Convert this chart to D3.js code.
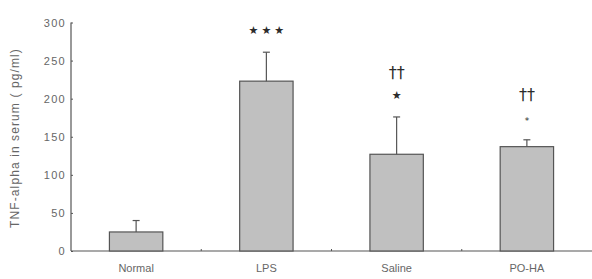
<!DOCTYPE html>
<meta charset="utf-8">
<style>
    body { margin: 0; background: #fff; }
    text { font-family: "Liberation Sans", Arial, sans-serif; fill: #666; }
    .axis path, .axis line { stroke: #555; }
    .mark { font-family: "DejaVu Sans", sans-serif; fill: #2a2a2a; }
    .marks { opacity: 0.99; }
</style>
<svg width="592" height="279"></svg>
<script src="https://d3js.org/d3.v7.min.js"></script>
<script>

    var groups = ["Normal", "LPS", "Saline", "PO-HA"];
    var means = [25, 223, 127, 137];
    var errors = [15, 38, 49, 9];
    var marks = [[], ["★★★"], ["††", "★"], ["††", "*"]];
    var yTicks = [0, 50, 100, 150, 200, 250, 300];

    var svg = d3.select("svg");
    var plotLeft = 71, plotRight = 592, plotTop = 22.5, plotBottom = 251;

    var x = d3.scaleBand()
        .domain(groups)
        .range([plotLeft, plotRight])
        .paddingInner(0.59)
        .paddingOuter(0.295);

    var y = d3.scaleLinear()
        .domain([0, 300])
        .range([plotBottom, plotTop]);

    // y axis
    var ya = svg.append("g")
        .attr("class", "axis")
        .attr("transform", "translate(" + plotLeft + ",0)")
        .call(d3.axisLeft(y).tickValues(yTicks).tickSize(-2).tickPadding(5));
    ya.select(".domain").attr("d", "M0," + y(300) + "V" + plotBottom).attr("stroke-width", 1.2);
    ya.selectAll("text")
        .attr("font-size", 11)
        .attr("letter-spacing", 1.3)
        .attr("fill", "#777");

    // x axis
    var xa = svg.append("g")
        .attr("class", "axis")
        .attr("transform", "translate(0," + plotBottom + ")");
    xa.append("line")
        .attr("x1", plotLeft).attr("x2", plotRight)
        .attr("stroke", "#555").attr("stroke-width", 1.2);
    xa.selectAll(".sep")
        .data(groups.slice(1))
        .enter().append("line")
        .attr("x1", function(d) { return x(d) - x.step() * x.paddingInner() / 2; })
        .attr("x2", function(d) { return x(d) - x.step() * x.paddingInner() / 2; })
        .attr("y1", 0).attr("y2", -2)
        .attr("stroke", "#555");
    xa.selectAll("text")
        .data(groups)
        .enter().append("text")
        .attr("x", function(d) { return x(d) + x.bandwidth() / 2; })
        .attr("y", 21)
        .attr("text-anchor", "middle")
        .attr("font-size", 11)
        .attr("fill", "#666")
        .text(function(d) { return d; });

    // bars
    svg.selectAll(".bar")
        .data(groups)
        .enter().append("rect")
        .attr("x", function(d) { return x(d); })
        .attr("y", function(d, i) { return y(means[i]); })
        .attr("width", x.bandwidth())
        .attr("height", function(d, i) { return plotBottom - y(means[i]); })
        .attr("fill", "#c0c0c0")
        .attr("stroke", "#555")
        .attr("stroke-width", 1.2);

    // error bars (upper only)
    var eb = svg.selectAll(".err")
        .data(groups)
        .enter().append("g")
        .attr("stroke", "#555")
        .attr("stroke-width", 1.2);
    eb.append("line")
        .attr("x1", function(d) { return x(d) + x.bandwidth() / 2; })
        .attr("x2", function(d) { return x(d) + x.bandwidth() / 2; })
        .attr("y1", function(d, i) { return y(means[i]); })
        .attr("y2", function(d, i) { return y(means[i] + errors[i]); });
    eb.append("line")
        .attr("x1", function(d) { return x(d) + x.bandwidth() / 2 - 3.5; })
        .attr("x2", function(d) { return x(d) + x.bandwidth() / 2 + 3.5; })
        .attr("y1", function(d, i) { return y(means[i] + errors[i]); })
        .attr("y2", function(d, i) { return y(means[i] + errors[i]); });

    // significance marks
    var mg = svg.append("g").attr("class", "marks");
    groups.forEach(function(g, i) {
        var barTop = y(means[i] + errors[i]);
        marks[i].slice().reverse().forEach(function(m, k) {
            var dagger = m.indexOf("†") >= 0;
            var stars = m.indexOf("★") >= 0;
            var size = dagger ? 16 : (stars ? 11 : 9);
            mg.append("text")
                .attr("class", "mark")
                .attr("x", x(g) + x.bandwidth() / 2 + (stars && m.length > 1 ? 1.5 : 0))
                .attr("y", barTop - 22 - k * 23 + (m === "*" ? 3 : 0))
                .attr("text-anchor", "middle")
                .attr("font-size", size)
                .attr("letter-spacing", stars && m.length > 1 ? 3 : 0)
                .attr("dy", "0.35em")
                .text(m);
        });
    });

    // y label
    svg.append("text")
        .attr("transform", "translate(15,138) rotate(-90)")
        .attr("text-anchor", "middle")
        .attr("dy", "0.35em")
        .attr("font-size", 12)
        .attr("letter-spacing", 1.1)
        .attr("fill", "#777")
        .text("TNF-alpha in serum ( pg/ml)");

</script>
